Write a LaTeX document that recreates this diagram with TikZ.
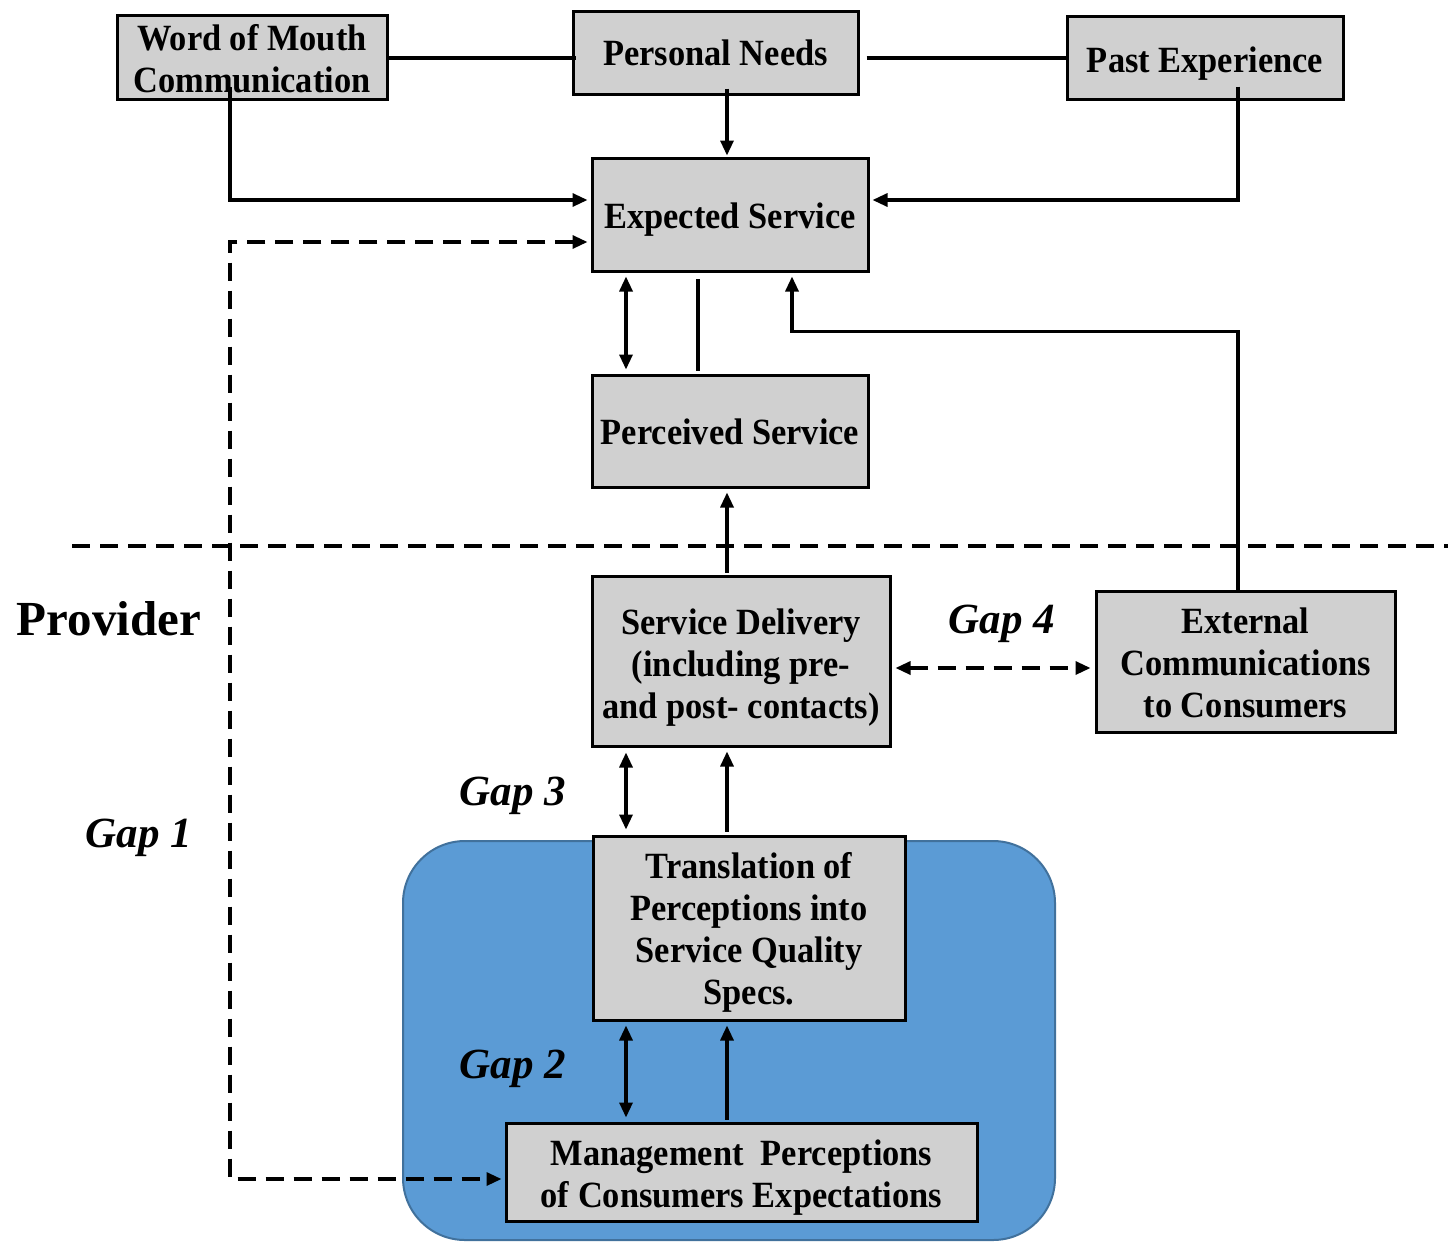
\documentclass[tikz,border=0pt]{standalone}
\usepackage{fontspec}
\setmainfont{Liberation Serif}
\newfontfamily\cellfamily[FakeStretch=0.93]{Liberation Serif}
\usetikzlibrary{arrows.meta,calc}

\definecolor{boxgray}{RGB}{208,208,208}
\definecolor{panelblue}{RGB}{91,155,213}
\definecolor{paneledge}{RGB}{65,113,156}

\newcommand\cellfont{\fontsize{37}{42}\selectfont\cellfamily\bfseries}
\newcommand\gapfont{\fontsize{43}{46}\selectfont\bfseries\itshape}
% centred block of lines, lowered by #1 without changing its reported size
\newcommand\celltext[2]{\raisebox{-#1}[\height][\depth]{\begin{tabular}{@{}c@{}}#2\end{tabular}}}

\begin{document}
\begin{tikzpicture}[x=1pt,y=-1pt,
  ln/.style={line width=3.2pt},
  tip/.tip={Triangle[length=15pt,width=13pt]},
  arr/.style={ln,-tip},
  dbl/.style={ln,tip-tip},
  dashln/.style={ln,dash pattern=on 18pt off 10pt},
  box/.style={draw=black,line width=3pt,fill=boxgray,inner sep=0pt,font=\cellfont},
  panel/.style={draw=paneledge,line width=2pt,fill=panelblue,rounded corners=62pt,inner sep=0pt},
  gaplbl/.style={font=\gapfont,inner sep=0pt},
]
\useasboundingbox (0,0) rectangle (1448,1243);

% provider-side panel
\node[panel,minimum width=652pt,minimum height=399pt] (panel) at (729,1040.5) {};

% boxes
\node[box,minimum width=270pt,minimum height=83pt]  (wom) at (252,57.5)    {\celltext{6pt}{Word of Mouth\\Communication}};
\node[box,minimum width=285pt,minimum height=83pt]  (pn)  at (715.5,52.5)  {\celltext{5pt}{Personal Needs}};
\node[box,minimum width=276pt,minimum height=83pt]  (pe)  at (1205,57.5)   {\celltext{7pt}{Past Experience}};
\node[box,minimum width=276pt,minimum height=113pt] (es)  at (730,214.5)   {\celltext{6pt}{Expected Service}};
\node[box,minimum width=276pt,minimum height=112pt] (ps)  at (730,431)     {\celltext{5pt}{Perceived Service}};
\node[box,minimum width=298pt,minimum height=170pt] (sd)  at (741,661)     {\celltext{7pt}{Service Delivery\\(including pre-\\and post- contacts)}};
\node[box,minimum width=299pt,minimum height=141pt] (ec)  at (1245.5,661.5){\celltext{6pt}{External\\Communications\\to Consumers}};
\node[box,minimum width=312pt,minimum height=184pt] (tr)  at (749,928)     {\celltext{5pt}{Translation of\\Perceptions into\\Service Quality\\Specs.}};
\node[box,minimum width=471pt,minimum height=98pt]  (mg)  at (741.5,1172)  {\celltext{6pt}{Management\ \ Perceptions\\of Consumers Expectations}};

% labels
\node[font=\fontsize{49}{54}\selectfont\bfseries,inner sep=0pt] (prov) at (109,619) {Provider};
\node[gaplbl] (gap1) at (139,838)  {Gap 1};
\node[gaplbl] (gap3) at (513,796)  {Gap 3};
\node[gaplbl] (gap2) at (513,1069) {Gap 2};
\node[gaplbl] (gap4) at (1002,624) {Gap 4};

% column guides for the vertical connectors
\coordinate (colA) at (626,0);
\coordinate (colB) at (727,0);
\coordinate (colC) at (698,0);
\coordinate (colD) at (792,0);
\coordinate (colW) at (230,0);
\coordinate (colE) at (1238,0);

% customer / provider divider
\coordinate (divL) at (72,546);
\coordinate (divR) at (1448,546);
\draw[dashln] (divL) -- (divR);

% top row links
\draw[ln] ($(wom.east)+(0,0.5)$) -- ($(pn.west)+(4,5.5)$);
\draw[ln] ($(pn.east)+(7,5.5)$) -- ($(pe.west)+(0,0.5)$);

% into expected service
\draw[arr] ($(pn.south -| colB)+(0,-7)$) -- ($(es.north -| colB)+(0,-1)$);
\draw[arr] ($(wom.south -| colW)+(0,-14)$) |- ($(es.west)+(-3,-14.5)$);
\draw[arr] ($(pe.south -| colE)+(0,-14)$) |- ($(es.east)+(3,-14.5)$);

% gap 1
\draw[dashln,tip-tip]
  ($(es.west)+(-3,27.5)$) -| ($(mg.west -| colW)+(0,7)$) -- ($(mg.west)+(-3,7)$);

% expected / perceived
\draw[dbl] ($(es.south -| colA)+(0,4)$) -- ($(ps.north -| colA)+(0,-4)$);
\draw[ln] ($(ps.north -| colC)+(0,-3)$) -- ($(es.south -| colC)+(0,6)$);

% external communications feed expectations
\draw[arr] (ec.north -| colE) |- ($(es.south -| colD)+(0,59)$) -- ($(es.south -| colD)+(0,4)$);

% delivery to perception
\draw[arr] ($(sd.north -| colB)+(0,-2)$) -- ($(ps.south -| colB)+(0,4)$);

% gap 4
\draw[dashln,tip-tip] ($(sd.east)+(4,7)$) -- ($(ec.west)+(-4,6.5)$);

% gap 3
\draw[dbl] ($(sd.south -| colA)+(0,5)$) -- ($(tr.north -| colA)+(0,-5)$);
\draw[arr] ($(tr.north -| colB)+(0,-3)$) -- ($(sd.south -| colB)+(0,4)$);

% gap 2
\draw[dbl] ($(tr.south -| colA)+(0,4)$) -- ($(mg.north -| colA)+(0,-4)$);
\draw[arr] ($(mg.north -| colB)+(0,-2)$) -- ($(tr.south -| colB)+(0,4)$);
\end{tikzpicture}
\end{document}
